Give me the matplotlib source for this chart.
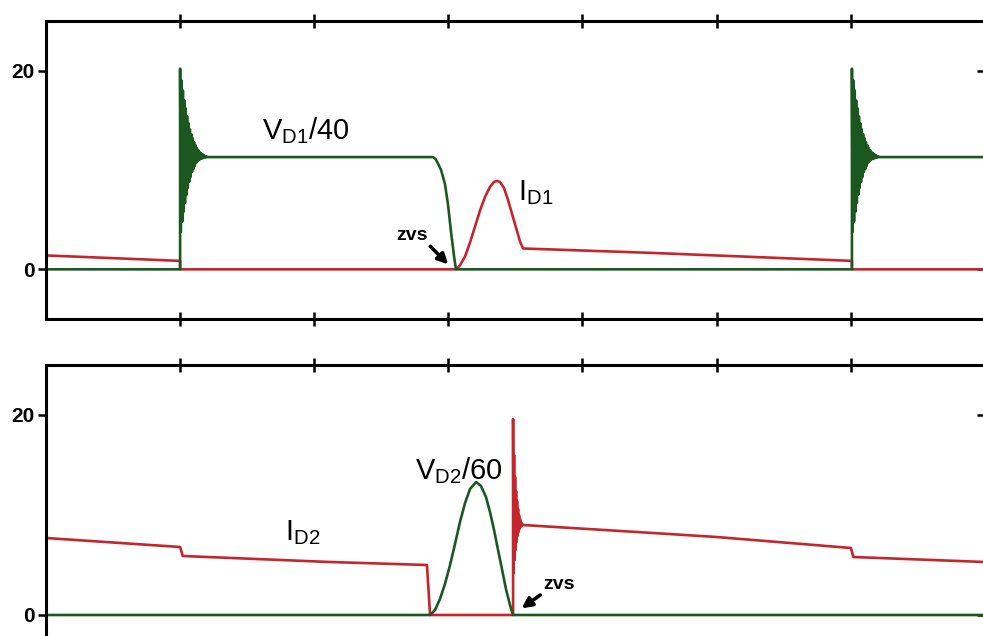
import matplotlib
matplotlib.use('Agg')
import matplotlib.pyplot as plt

plt.rcParams['font.family'] = ['Liberation Sans', 'DejaVu Sans']
plt.rcParams['mathtext.fontset'] = 'custom'
plt.rcParams['mathtext.rm'] = 'Liberation Sans'
plt.rcParams['mathtext.it'] = 'Liberation Sans:italic'

GREEN = '#1b5820'
RED = '#c4262c'

# time axis ticks (no labels in the original)
xticks = [1, 2, 3, 4, 5, 6]
yticks = [0, 20]
ytick_labels = ['0', '20']

# ---- top panel: diode D1 ----
# V_D1/40 : off, turn-off ringing, plateau, zvs fall, off, ringing, plateau
vd1_pre_t = [0.0, 1.0]
vd1_pre = [0.0, 0.0]
vd1_ring = [20.2, 3.8, 19.0, 4.8, 18.0, 5.8, 17.0, 6.7, 16.2, 7.5, 15.4, 8.2,
            14.7, 8.8, 14.1, 9.3, 13.6, 9.8, 13.2, 10.1, 12.8, 10.4, 12.5,
            10.7, 12.2, 10.9, 12.0, 11.0, 11.8, 11.1, 11.7, 11.15, 11.6, 11.2,
            11.5, 11.25, 11.4, 11.28, 11.35, 11.3]
vd1_ring_dt = 0.0052
vd1_ring_starts = [1.0, 6.01]
vd1_mid_t = [2.886, 2.905, 2.925, 2.946, 2.975, 2.998, 3.020, 3.043, 3.057, 6.010]
vd1_mid = [11.3, 11.1, 10.6, 10.0, 8.6, 6.5, 3.8, 1.3, 0.0, 0.0]
vd1_end_t = [7.0]
vd1_end = [11.3]

# I_D1
id1_t = [0.0, 1.0, 1.0, 3.057, 3.087, 3.125, 3.162, 3.199, 3.236, 3.274,
         3.311, 3.341, 3.363, 3.385, 3.415, 3.445, 3.475, 3.505, 3.535,
         3.557, 4.526, 6.010, 6.010, 7.0]
id1 = [1.4, 0.85, 0.0, 0.0, 0.4, 1.3, 2.7, 4.3, 5.9, 7.3,
       8.3, 8.8, 8.9, 8.8, 8.2, 7.0, 5.6, 4.2, 2.8,
       2.1, 1.65, 0.85, 0.0, 0.0]

# ---- bottom panel: diode D2 ----
vd2_t = [0.0, 2.864, 2.901, 2.938, 2.975, 3.013, 3.050, 3.087, 3.125, 3.162,
         3.207, 3.244, 3.281, 3.311, 3.341, 3.371, 3.400, 3.430, 3.460,
         3.483, 7.0]
vd2 = [0.0, 0.0, 0.5, 1.6, 3.1, 5.0, 7.1, 9.3, 11.2, 12.6,
       13.3, 12.9, 11.8, 10.3, 8.5, 6.5, 4.6, 2.6, 1.0,
       0.0, 0.0]

id2_pre_t = [0.0, 1.0, 1.02, 2.117, 2.841, 2.864, 3.483]
id2_pre = [7.7, 6.8, 5.9, 5.3, 5.0, 0.0, 0.0]
id2_ring = [19.6, 4.2, 16.0, 5.5, 13.8, 6.5, 12.4, 7.3, 11.4, 7.9, 10.6, 8.3,
            10.0, 8.6, 9.6, 8.8, 9.3, 8.9, 9.1, 9.0]
id2_ring_dt = 0.0037
id2_ring_start = 3.483
id2_post_t = [3.557, 4.526, 5.0, 6.003, 6.02, 7.0]
id2_post = [9.0, 8.2, 7.8, 6.7, 5.8, 5.3]


def ring_times(t0, dt, vals):
    return [t0 + dt * k for k in range(len(vals))]


vd1_t = (vd1_pre_t + ring_times(vd1_ring_starts[0], vd1_ring_dt, vd1_ring)
         + vd1_mid_t + ring_times(vd1_ring_starts[1], vd1_ring_dt, vd1_ring)
         + vd1_end_t)
vd1 = vd1_pre + vd1_ring + vd1_mid + vd1_ring + vd1_end

id2_t = id2_pre_t + ring_times(id2_ring_start, id2_ring_dt, id2_ring) + id2_post_t
id2 = id2_pre + id2_ring + id2_post


def style(ax):
    ax.set_xlim(0, 7)
    ax.set_ylim(-5, 25)
    for s in ax.spines.values():
        s.set_linewidth(2.2)
    ax.set_xticks(xticks)
    ax.tick_params(axis='x', direction='inout', length=10, width=1.8,
                   top=True, bottom=True, labelbottom=False)
    ax.set_yticks(yticks)
    ax.set_yticklabels(ytick_labels, fontsize=15, fontweight='bold')
    ax.tick_params(axis='y', direction='out', length=6, width=1.8, pad=2)
    sec = ax.secondary_yaxis('right')
    sec.set_yticks(yticks)
    sec.tick_params(direction='in', length=6, width=1.8, labelright=False)
    sec.spines['right'].set_linewidth(2.2)


fig = plt.figure(figsize=(9.83, 6.36), dpi=100)
ax1 = fig.add_axes([46 / 983, 1 - 319 / 636, 938.7 / 983, 298 / 636])
ax2 = fig.add_axes([46 / 983, 1 - 665 / 636, 938.7 / 983, 300 / 636])

ax1.plot(id1_t, id1, color=RED, lw=1.9)
ax1.plot(vd1_t, vd1, color=GREEN, lw=1.9)
style(ax1)

ax1.text(1.611, 13.07, r'$\mathrm{V_{D1}/40}$', fontsize=21, va='baseline')
ax1.text(3.52, 7.0, r'$\mathrm{I_{D1}}$', fontsize=21, va='baseline')
ax1.annotate('zvs', xy=(3.0, 0.5), xytext=(2.61, 3.0), fontsize=14,
             fontweight='bold', va='baseline',
             arrowprops=dict(arrowstyle='-|>', color='black', lw=2.6,
                             mutation_scale=15, shrinkA=0, shrinkB=0,
                             relpos=(1.0, 0.0)))

ax2.plot(id2_t, id2, color=RED, lw=1.9)
ax2.plot(vd2_t, vd2, color=GREEN, lw=1.9)
style(ax2)

ax2.text(2.752, 13.6, r'$\mathrm{V_{D2}/60}$', fontsize=21, va='baseline')
ax2.text(1.78, 7.5, r'$\mathrm{I_{D2}}$', fontsize=21, va='baseline')
ax2.annotate('zvs', xy=(3.53, 0.5), xytext=(3.706, 2.6), fontsize=14,
             fontweight='bold', va='baseline',
             arrowprops=dict(arrowstyle='-|>', color='black', lw=2.6,
                             mutation_scale=15, shrinkA=0, shrinkB=2,
                             relpos=(0.0, 0.0)))

fig.savefig('out.png', dpi=100)
